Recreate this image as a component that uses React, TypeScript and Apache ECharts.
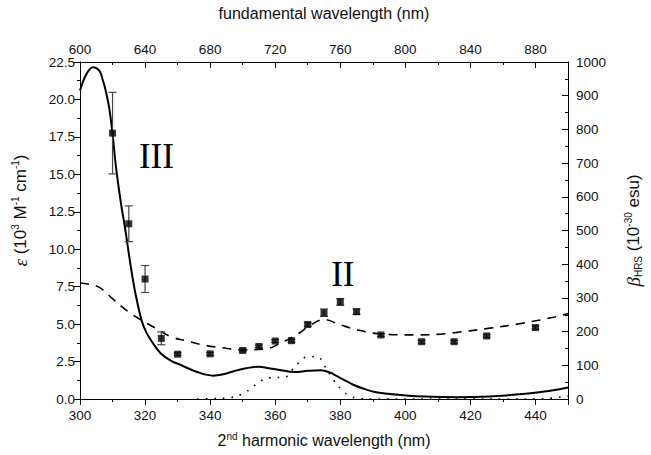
import React, { useEffect, useRef } from "react";
import * as echarts from "echarts";

// Solid curve: epsilon (10^3 M^-1 cm^-1) vs 2nd harmonic wavelength (nm)
const solidX = [300, 302, 304, 306, 307, 308, 309, 310, 311, 312.5, 314, 315.5, 317, 319, 320.5, 322.5, 325, 328, 331, 336, 341, 344, 347, 351, 355, 358, 361, 366, 370, 374, 377, 379, 381, 384, 387, 391, 396, 401, 406, 411, 416, 421, 426, 431, 436, 441, 446, 450];
const solidY = [20.6, 21.7, 22.15, 21.9, 21.3, 20.5, 19.4, 17.7, 15.6, 13.2, 11.2, 9.0, 7.1, 5.2, 4.4, 3.7, 3.0, 2.55, 2.27, 1.8, 1.56, 1.65, 1.84, 2.05, 2.16, 2.05, 1.95, 1.8, 1.88, 1.92, 1.75, 1.52, 1.3, 0.95, 0.7, 0.45, 0.32, 0.22, 0.16, 0.13, 0.12, 0.13, 0.17, 0.24, 0.33, 0.45, 0.6, 0.77];

// Dashed curve (left axis units)
const dashX = [300, 303, 306, 310, 315, 319, 324, 328, 333, 338, 343, 350, 357, 362, 367, 371, 375, 380, 385, 390, 396, 403, 411, 416, 426, 436, 446, 450];
const dashY = [7.75, 7.65, 7.45, 6.7, 5.8, 5.25, 4.63, 4.15, 3.87, 3.6, 3.44, 3.28, 3.34, 3.77, 4.35, 4.95, 5.3, 4.95, 4.63, 4.4, 4.3, 4.28, 4.33, 4.45, 4.73, 5.06, 5.48, 5.7];

// Dotted curve (left axis units)
const dotX = [336, 339, 345, 350, 352.5, 355, 358, 363, 365, 367, 370, 373, 375, 378, 380.5, 383, 385.5, 390, 400, 410, 420, 430, 440, 445, 450];
const dotY = [0, 0.02, 0.06, 0.34, 0.7, 1.13, 1.41, 1.46, 1.9, 2.38, 2.82, 2.82, 2.27, 1.25, 0.6, 0.2, 0.05, 0, 0, 0, 0, 0, 0, 0.06, 0.2];

// Measured beta_HRS (10^-30 esu), right axis
const betaX = [310, 315, 320, 325, 330, 340, 350, 355, 360, 365, 370, 375, 380, 385, 392.5, 405, 415, 425, 440];
const betaY = [789, 520, 356, 180, 133, 134, 144, 156, 172, 173, 221, 256, 288, 259, 190, 170, 170, 187, 212];
const betaErr = [121, 53, 40, 19, 4, 4, 4, 4, 4, 4, 5, 11, 10, 8, 4, 4, 4, 4, 5];

// Tick settings
const leftTicks = { min: 0, max: 22.5, interval: 2.5 };
const rightTicks = { min: 0, max: 1000, interval: 100 };
const bottomTicks = { min: 300, max: 450, interval: 20 };
const topTicks = { min: 600, max: 900, interval: 40 };

// Band annotations
const bandNames = ["III", "II"];
const bandX = [323.5, 380.8];
const bandY = [16.2, 8.3];

const INK = "#000";
const TXT = "#111";
const SANS = "'Liberation Sans', Arial, sans-serif";
const SERIF = "'Liberation Serif', 'Times New Roman', serif";

export default function App() {
  const ref = useRef<HTMLDivElement>(null);

  useEffect(() => {
    if (!ref.current) return;
    const chart = echarts.init(ref.current, undefined, { renderer: "svg" });

    const axisCommon = {
      axisLine: { show: true, onZero: false, lineStyle: { color: INK, width: 1 } },
      axisTick: { show: true, length: 6, lineStyle: { color: INK } },
      minorTick: { show: true, splitNumber: 2, length: 3, lineStyle: { color: INK } },
      splitLine: { show: false },
      axisLabel: { color: TXT, fontSize: 13.5, fontFamily: SANS },
      nameTextStyle: { color: TXT, fontSize: 16, fontFamily: SANS },
    };

    const option: any = {
      animation: false,
      backgroundColor: "#fff",
      grid: { left: 80, right: 70, top: 57, bottom: 48, containLabel: false },
      xAxis: [
        {
          ...axisCommon,
          type: "value",
          position: "bottom",
          ...bottomTicks,
          axisLabel: {
            ...axisCommon.axisLabel,
            margin: 9,
            formatter: (v: number) => (v === bottomTicks.max ? "" : String(v)),
          },
          name: "2{sup|nd} harmonic wavelength (nm)",
          nameLocation: "middle",
          nameGap: 32,
          nameTextStyle: {
            ...axisCommon.nameTextStyle,
            lineHeight: 19,
            rich: {
              sup: { fontSize: 10, fontFamily: SANS, color: TXT, verticalAlign: "top", lineHeight: 11 },
            },
          },
        },
        {
          ...axisCommon,
          type: "value",
          position: "top",
          ...topTicks,
          axisTick: { ...axisCommon.axisTick, inside: true },
          minorTick: { ...axisCommon.minorTick, inside: true } as any,
          axisLabel: {
            ...axisCommon.axisLabel,
            margin: 6,
            formatter: (v: number) => (v === topTicks.max ? "" : String(v)),
          },
          name: "fundamental wavelength (nm)",
          nameLocation: "middle",
          nameGap: 41,
        },
      ],
      yAxis: [
        {
          ...axisCommon,
          type: "value",
          position: "left",
          ...leftTicks,
          axisLabel: {
            ...axisCommon.axisLabel,
            margin: 5,
            formatter: (v: number) => v.toFixed(1),
          },
          name: "{e|ε} (10{sup|3} M{sup|-1} cm{sup|-1})",
          nameLocation: "middle",
          nameRotate: 90,
          nameGap: 50,
          nameTextStyle: {
            ...axisCommon.nameTextStyle,
            fontSize: 17,
            lineHeight: 20,
            padding: [0, 0, 0, 40],
            rich: {
              e: { fontSize: 19, fontFamily: SERIF, fontStyle: "italic", color: TXT, lineHeight: 20 },
              sup: { fontSize: 10, fontFamily: SANS, color: TXT, verticalAlign: "top", lineHeight: 11 },
            },
          },
        },
        {
          ...axisCommon,
          type: "value",
          position: "right",
          ...rightTicks,
          axisTick: { ...axisCommon.axisTick, inside: true },
          minorTick: { ...axisCommon.minorTick },
          axisLabel: { ...axisCommon.axisLabel, margin: 8, formatter: (v: number) => String(v) },
          name: "{b|β}{sub|HRS} (10{sup|-30} esu)",
          nameLocation: "middle",
          nameRotate: 90,
          nameGap: 55,
          nameTextStyle: {
            ...axisCommon.nameTextStyle,
            fontSize: 17,
            lineHeight: 20,
            rich: {
              b: { fontSize: 19, fontFamily: SERIF, fontStyle: "italic", color: TXT, lineHeight: 20 },
              sub: { fontSize: 10, fontFamily: SANS, color: TXT, verticalAlign: "bottom", lineHeight: 11 },
              sup: { fontSize: 10, fontFamily: SANS, color: TXT, verticalAlign: "top", lineHeight: 11 },
            },
          },
        },
      ],
      series: [
        {
          name: "solid",
          type: "line",
          xAxisIndex: 0,
          yAxisIndex: 0,
          data: solidX.map((x, i) => [x, solidY[i]]),
          showSymbol: false,
          smooth: 0.4,
          lineStyle: { color: INK, width: 2 },
          z: 3,
        },
        {
          name: "dashed",
          type: "line",
          xAxisIndex: 0,
          yAxisIndex: 0,
          data: dashX.map((x, i) => [x, dashY[i]]),
          showSymbol: false,
          smooth: 0.4,
          lineStyle: { color: INK, width: 1.6, type: [9, 7] },
          z: 3,
        },
        {
          name: "dotted",
          type: "line",
          xAxisIndex: 0,
          yAxisIndex: 0,
          data: dotX.map((x, i) => [x, dotY[i]]),
          showSymbol: false,
          smooth: 0.4,
          lineStyle: { color: INK, width: 1.6, type: [1.6, 7] },
          z: 3,
        },
        {
          name: "errors",
          type: "custom",
          xAxisIndex: 0,
          yAxisIndex: 1,
          data: betaX.map((x, i) => [x, betaY[i] - betaErr[i], betaY[i] + betaErr[i]]),
          encode: { x: 0, y: [1, 2] },
          renderItem: (params: any, api: any) => {
            const x = api.value(0);
            const lo = api.coord([x, api.value(1)]);
            const hi = api.coord([x, api.value(2)]);
            const w = 4;
            const st = { stroke: "#444", lineWidth: 1.2 };
            return {
              type: "group",
              children: [
                { type: "line", shape: { x1: hi[0], y1: hi[1], x2: lo[0], y2: lo[1] }, style: st },
                { type: "line", shape: { x1: hi[0] - w, y1: hi[1], x2: hi[0] + w, y2: hi[1] }, style: st },
                { type: "line", shape: { x1: lo[0] - w, y1: lo[1], x2: lo[0] + w, y2: lo[1] }, style: st },
              ],
            };
          },
          z: 4,
        },
        {
          name: "beta",
          type: "scatter",
          xAxisIndex: 0,
          yAxisIndex: 1,
          data: betaX.map((x, i) => [x, betaY[i]]),
          symbol: "rect",
          symbolSize: 7,
          itemStyle: { color: INK },
          z: 5,
        },
        {
          name: "bands",
          type: "custom",
          xAxisIndex: 0,
          yAxisIndex: 0,
          silent: true,
          data: bandNames.map((n, i) => [bandX[i], bandY[i]]),
          encode: { x: 0, y: 1 },
          renderItem: (params: any, api: any) => {
            const p = api.coord([api.value(0), api.value(1)]);
            return {
              type: "text",
              x: p[0],
              y: p[1],
              style: {
                text: bandNames[params.dataIndex],
                fill: INK,
                font: `35px ${SERIF}`,
                align: "center",
                verticalAlign: "middle",
              },
            };
          },
          z: 6,
        },
      ],
    };

    chart.setOption(option);
    return () => chart.dispose();
  }, []);

  return <div ref={ref} style={{ width: 651, height: 455, position: "absolute", left: 0, top: 0 }} />;
}
